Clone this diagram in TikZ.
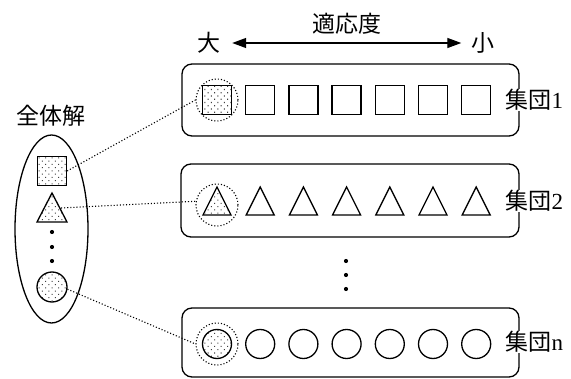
\documentclass[tikz,border=0pt]{standalone}
\usepackage{fontspec}
\setmainfont{Liberation Serif}
\newfontfamily\cjk{Noto Sans CJK JP}
\usetikzlibrary{arrows.meta,patterns.meta,shapes.geometric}
\begin{document}
\begin{tikzpicture}[x=1pt,y=-1pt,
  shp/.style={draw,line width=1.3pt},
  dotpat/.style={pattern={Dots[distance=4.6pt,radius=0.75pt,angle=45]},pattern color=black!75},
  dotfill/.style={preaction={fill=white},dotpat},
  sqn/.style={shp,rectangle,minimum size=29pt,inner sep=0pt},
  crn/.style={shp,circle,minimum size=29pt,inner sep=0pt},
  dcirc/.style={draw,circle,dotted,line width=1.1pt,minimum size=42pt,inner sep=0pt},
  grp/.style={draw,rounded corners=10pt,line width=1.3pt,inner sep=0pt},
  lbl/.style={font=\fontsize{23}{26}\selectfont,inner sep=0.5pt},
  glbl/.style={lbl,fill=white,anchor=west},
  conn/.style={dotted,line width=1.1pt},
  bigdot/.style={fill=black,circle,minimum size=4.2pt,inner sep=0pt}
]
\useasboundingbox (0,0) rectangle (571,379);

% top arrow and labels
\node[lbl] (da) at (209,43) {\cjk 大};
\node[lbl] (sho) at (483,43) {\cjk 小};
\node[lbl] (fit) at (347,24) {\cjk 適応度};
\draw[line width=1.3pt,{Triangle[length=14pt,width=10pt]}-{Triangle[length=14pt,width=10pt]}] ([xshift=11pt]da.east) -- ([xshift=-9.5pt]sho.west);

% group boxes
\node[grp,minimum width=337pt,minimum height=72pt] (b1) at (350.5,100) {};
\node[grp,minimum width=338pt,minimum height=73pt] (b2) at (350,200.5) {};
\node[grp,minimum width=337pt,minimum height=69pt] (bn) at (350.5,342.5) {};

% row 1: squares
\node[sqn,dotfill] (s0) at (217,100) {};
\foreach \i in {1,...,6} \node[sqn] (s\i) at (217+43.2*\i,100) {};
\node[dcirc] (d1) at (217,100) {};

% row 2: triangles
\foreach \i in {0,...,6} {
  \draw[shp] (217+43.2*\i,187) -- (231+43.2*\i,215) -- (203+43.2*\i,215) -- cycle;
}
\fill[dotpat] (217,189) -- (229.5,214) -- (204.5,214) -- cycle;
\node[dcirc] (d2) at (217,205) {};

% row n: circles
\node[crn,dotfill] (c0) at (217,344) {};
\foreach \i in {1,...,6} \node[crn] (c\i) at (217+43.2*\i,344) {};
\node[dcirc] (dn) at (217,344) {};

% vertical dots between rows
\node[bigdot] (v1) at (346,261) {};
\node[bigdot] (v2) at (346,275) {};
\node[bigdot] (v3) at (346,289) {};

% group labels
\node[glbl] (g1) at (505,100) {{\cjk 集団}1};
\node[glbl] (g2) at (505,201) {{\cjk 集団}2};
\node[glbl] (gn) at (505,342) {{\cjk 集団}n};

% left: whole solution
\node[lbl] (all) at (51,116) {\cjk 全体解};
\node[shp,ellipse,minimum width=73pt,minimum height=188pt,inner sep=0pt] (E) at (51.5,229) {};
\node[sqn,dotfill] (ls) at (52,171) {};
\draw[shp,dotfill] (52,193) -- (67,222) -- (37,222) -- cycle;
\coordinate (lt) at (61,208);
\node[bigdot] (e1) at (52,232) {};
\node[bigdot] (e2) at (52,247) {};
\node[bigdot] (e3) at (52,261) {};
\node[crn,dotfill,minimum size=30pt] (lc) at (52,287) {};

% connectors
\draw[conn] (ls.east) -- (d1.west);
\draw[conn] (lt) -- (d2.170);
\draw[conn] (lc.-8) -- (dn.west);
\end{tikzpicture}
\end{document}
